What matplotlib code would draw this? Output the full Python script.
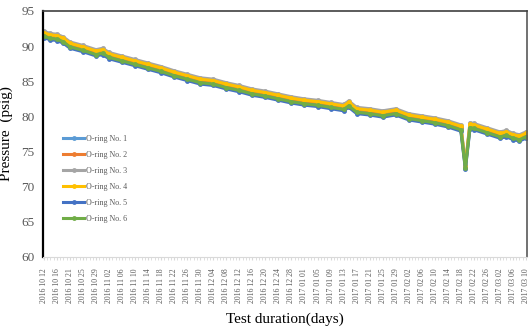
import matplotlib
matplotlib.use('Agg')
import matplotlib.pyplot as plt
import numpy as np

# --- DATA ---
TICK_LABELS = ["2016 10 12", "2016 10 16", "2016 10 21", "2016 10 25", "2016 10 29",
               "2016 11 02", "2016 11 06", "2016 11 10", "2016 11 14", "2016 11 18",
               "2016 11 22", "2016 11 26", "2016 11 30", "2016 12 04", "2016 12 08",
               "2016 12 12", "2016 12 16", "2016 12 20", "2016 12 24", "2016 12 28",
               "2017 01 01", "2017 01 05", "2017 01 09", "2017 01 13", "2017 01 17",
               "2017 01 21", "2017 01 25", "2017 01 29", "2017 02 02", "2017 02 06",
               "2017 02 10", "2017 02 14", "2017 02 18", "2017 02 22", "2017 02 26",
               "2017 03 02", "2017 03 06", "2017 03 10"]

# sample positions on the category axis (label index units)
x_pos = [0, 0.5, 1, 1.5, 2, 3, 4, 4.5, 5, 6, 7, 8, 9, 10, 11, 12, 13, 14, 15, 16,
         17, 18, 19, 20, 21, 22, 23, 23.4, 24, 25, 26, 27, 28, 29, 30, 31, 32,
         32.35, 32.7, 33, 34, 35, 35.5, 36, 36.5, 37]

ring1 = [91.6, 91.3, 91.2, 90.8, 90.1, 89.6, 89.0, 89.2, 88.6, 88.1, 87.6, 87.1, 86.6, 86.0,
         85.5, 85.0, 84.8, 84.3, 83.9, 83.4, 83.1, 82.7, 82.3, 82.0, 81.8, 81.5, 81.2, 81.7,
         80.8, 80.6, 80.3, 80.6, 79.9, 79.6, 79.3, 78.9, 78.3, 72.8, 78.6, 78.5, 77.9, 77.3,
         77.5, 77.1, 76.9, 77.3]
ring2 = [91.8, 91.5, 91.4, 91.0, 90.3, 89.8, 89.2, 89.4, 88.8, 88.3, 87.8, 87.3, 86.8, 86.2,
         85.7, 85.2, 85.0, 84.5, 84.1, 83.6, 83.3, 82.9, 82.5, 82.2, 82.0, 81.7, 81.4, 81.9,
         81.0, 80.8, 80.5, 80.8, 80.1, 79.8, 79.5, 79.1, 78.5, 72.9, 78.8, 78.7, 78.1, 77.5,
         77.7, 77.3, 77.1, 77.5]
ring3 = [92.1, 91.8, 91.7, 91.3, 90.6, 90.1, 89.5, 89.7, 89.1, 88.6, 88.1, 87.6, 87.1, 86.5,
         86.0, 85.5, 85.3, 84.8, 84.4, 83.9, 83.6, 83.2, 82.8, 82.5, 82.3, 82.0, 81.7, 82.2,
         81.3, 81.1, 80.8, 81.1, 80.4, 80.1, 79.8, 79.4, 78.8, 73.1, 79.1, 79.0, 78.4, 77.8,
         78.0, 77.6, 77.4, 77.8]
ring4 = [91.9, 91.6, 91.5, 91.1, 90.4, 89.9, 89.3, 89.5, 88.9, 88.4, 87.9, 87.4, 86.9, 86.3,
         85.8, 85.3, 85.1, 84.6, 84.2, 83.7, 83.4, 83.0, 82.6, 82.3, 82.1, 81.8, 81.5, 82.0,
         81.1, 80.9, 80.6, 80.9, 80.2, 79.9, 79.6, 79.2, 78.6, 73.0, 78.9, 78.8, 78.2, 77.6,
         77.8, 77.4, 77.2, 77.6]
ring5 = [91.2, 90.9, 90.8, 90.4, 89.7, 89.2, 88.6, 88.8, 88.2, 87.7, 87.2, 86.7, 86.2, 85.6,
         85.1, 84.6, 84.4, 83.9, 83.5, 83.0, 82.7, 82.3, 81.9, 81.6, 81.4, 81.1, 80.8, 81.3,
         80.4, 80.2, 79.9, 80.2, 79.5, 79.2, 78.9, 78.5, 77.9, 72.5, 78.2, 78.1, 77.5, 76.9,
         77.1, 76.7, 76.5, 76.9]
ring6 = [91.4, 91.1, 91.0, 90.6, 89.9, 89.4, 88.8, 89.0, 88.4, 87.9, 87.4, 86.9, 86.4, 85.8,
         85.3, 84.8, 84.6, 84.1, 83.7, 83.2, 82.9, 82.5, 82.1, 81.8, 81.6, 81.3, 81.0, 81.5,
         80.6, 80.4, 80.1, 80.4, 79.7, 79.4, 79.1, 78.7, 78.1, 72.6, 78.4, 78.3, 77.7, 77.1,
         77.3, 76.9, 76.7, 77.1]

SERIES = [("O-ring No. 1", ring1, '#5b9bd5'),
          ("O-ring No. 2", ring2, '#ed7d31'),
          ("O-ring No. 3", ring3, '#a5a5a5'),
          ("O-ring No. 4", ring4, '#ffc000'),
          ("O-ring No. 5", ring5, '#4472c4'),
          ("O-ring No. 6", ring6, '#70ad47')]

plt.rcParams['font.family'] = 'Liberation Serif'

fig = plt.figure(figsize=(5.29, 3.28), dpi=100)
ax = fig.add_axes([0.0813, 0.2165, 0.9147, 0.75])

for name, vals, clr in SERIES:
    ax.plot(x_pos, vals, color=clr, linewidth=2.2, marker='o', markersize=3.5,
            markeredgewidth=0, label=name)

ax.set_xlim(-0.07, len(TICK_LABELS) - 1 + 0.07)
ax.set_ylim(60, 95)
ax.set_yticks(np.arange(60, 96, 5))
ax.set_xticks(np.arange(len(TICK_LABELS)))
ax.set_xticklabels(TICK_LABELS, rotation=90, fontsize=5.6, color='#595959')
ax.set_xticks(np.arange(0, len(TICK_LABELS) - 0.9, 0.25), minor=True)
ax.tick_params(axis='y', length=0, labelsize=9.5, labelcolor='#595959', pad=6)
ax.tick_params(axis='x', which='both', length=2, color='#d9d9d9', pad=6)

ax.spines['left'].set_linewidth(1.6)
ax.spines['left'].set_color('black')
ax.spines['top'].set_linewidth(1.2)
ax.spines['top'].set_color('#404040')
ax.spines['right'].set_linewidth(1.2)
ax.spines['right'].set_color('#595959')
ax.spines['bottom'].set_linewidth(0.8)
ax.spines['bottom'].set_color('#d9d9d9')

ax.set_ylabel("Pressure  (psig)", fontsize=11, labelpad=6)
ax.set_xlabel("Test duration(days)", fontsize=11, labelpad=7)

leg = ax.legend(loc='upper left', bbox_to_anchor=(0.035, 0.51), frameon=False,
                fontsize=5.8, handlelength=2.6, labelspacing=1.0, handletextpad=0.2,
                borderaxespad=0)
for t in leg.get_texts():
    t.set_color('#595959')

fig.savefig('out.png', dpi=100)
